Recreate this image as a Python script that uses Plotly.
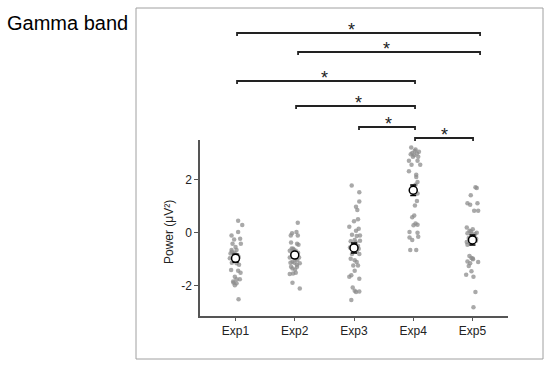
import plotly.graph_objects as go

# ---------------- data ----------------
categories = ["Exp1", "Exp2", "Exp3", "Exp4", "Exp5"]

exp1_vals = [0.45, 0.29, 0.03, -0.10, -0.22, -0.25, -0.41, -0.41, -0.53, -0.65,
             -0.71, -0.78, -0.80, -0.84, -0.75, -0.96, -0.96, -1.03, -1.13, -1.15,
             -0.90, -1.40, -1.43, -1.50, -1.65, -1.75, -1.75, -1.83, -1.90, -1.97,
             -2.50, -0.65, -1.20, -1.88, -0.85]
exp1_jit = [2.6, 6.7, 2.6, -4, 4.6, -1.4, -3, 5.3, 0, 1,
            -3.7, -5, -2, 2, -1, -5.7, 0.3, 1.6, -3.7, 1,
            3, -4.4, 2.6, 5, -0.7, 1, 4.3, -2.4, 1, -0.7,
            3, -4, 3.5, -2, 0.5]

exp2_vals = [0.38, -0.02, -0.10, 0.03, -0.10, -0.37, -0.41, -0.45, -0.59, -0.65,
             -0.68, -0.68, -0.75, -0.78, -0.88, -0.84, -0.93, -0.93, -1.03, -1.09,
             -1.13, -1.13, -1.15, -1.28, -1.28, -1.34, -1.38, -1.55, -1.53, -1.50,
             -1.88, -2.10, -0.72, -0.98, -0.60, -1.20]
exp2_jit = [3, -2.7, -4, 1.7, 3, -3.7, 2.3, 3.7, -3, -1,
            -5, 1, 3.3, -2.7, -1.7, 1, -5, 4.3, 2.3, -2.3,
            -4.3, -0.3, 5, -3.7, 2.3, -2.3, 0.3, -5, -1.7, 1,
            -2.3, 5, -0.5, 0.8, -1.5, 2]

exp3_vals = [1.78, 1.52, 1.18, 0.98, 0.86, 0.51, 0.43, 0.23, 0.15, 0.08,
             -0.07, -0.12, -0.10, -0.27, -0.32, -0.30, -0.37, -0.45, -0.50, -0.55,
             -0.60, -0.65, -0.70, -0.80, -0.80, -0.98, -1.03, -1.10, -1.23, -1.23,
             -1.43, -1.65, -1.73, -1.60, -2.06, -2.18, -2.21, -2.23, -2.53]
exp3_jit = [-2.3, 5.3, 5.3, 2, 3.3, 4, 0, -4.7, 4.7, 2,
            -2, 2.7, 6, 0.7, -3.3, 6, 2, -0.7, 4, -4,
            4.7, 0, 2.7, -2, 5.3, -3.3, 0.7, 2.7, -0.7, 4,
            0.7, -4.7, 5.3, -2.7, -1.3, 0.7, 5.3, 2, -2.7]

exp4_vals = [3.21, 3.13, 3.05, 3.00, 2.98, 2.92, 2.86, 2.86, 2.71, 2.71,
             2.56, 2.56, 2.31, 2.18, 1.91, 1.81, 1.73, 1.48, 1.48, 1.20,
             1.03, 0.65, 0.58, 0.35, 0.30, 0.28, 0.03, 0.00, -0.18, -0.15,
             -0.27, -0.65, -0.65, 3.08, 2.95, 2.10, 1.65]
exp4_jit = [-2, 2.3, 5.7, -1, 3.7, 1, -0.3, 5, -4.3, 4.3,
            -1.7, 7, -4.3, 3, 4.3, 2.3, -1, 1, 4.3, 3.7,
            1.7, 1, -1, 2.3, 4.3, 0.3, -3.7, 4.3, -3.7, 5,
            -1, -3, 3, 1.5, -2.5, 3, -0.5]

exp5_vals = [1.71, 1.68, 1.41, 1.11, 1.05, 1.11, 0.83, 0.83, 0.20, 0.08,
             0.13, -0.02, -0.05, 0.00, -0.12, -0.20, -0.22, -0.35, -0.40, -0.45,
             -0.87, -0.95, -0.97, -1.08, -1.15, -1.10, -1.25, -1.45, -1.58, -1.65,
             -2.23, -2.80, -0.05, 0.05, -0.30, -1.00]
exp5_jit = [3, 4.3, -1.7, -5, -2.3, 5, 1.7, 5.7, -5.7, -3,
            0.3, -5, -1, 4.3, 1.7, -3.7, 3.7, -5.7, -2.3, -5,
            -3, -1, 0.3, -5, -2.3, 5.7, -3.7, -1, -6.3, 1,
            3, 1, 2.5, -1.5, 3.5, 0.5]

group_vals = [exp1_vals, exp2_vals, exp3_vals, exp4_vals, exp5_vals]
group_jit = [exp1_jit, exp2_jit, exp3_jit, exp4_jit, exp5_jit]

means = [-0.96, -0.84, -0.57, 1.60, -0.27]
sems = [0.15, 0.12, 0.19, 0.20, 0.19]

y_tick_vals = [-2, 0, 2]
y_tick_text = ["-2", "0", "2"]

# significance brackets: (left category, right category)
bracket_pairs = [(0, 4), (1, 4), (0, 3), (1, 3), (2, 3), (3, 4)]
bracket_labels = ["*", "*", "*", "*", "*", "*"]

# ---------------- layout geometry (pixels) ----------------
W, H = 550, 367
PL, PR, PT, PB = 200, 508, 140, 316
X_RANGE = [-0.6, 4.6]
Y_RANGE = [-3.13, 3.49]
PX_PER_CAT = (PR - PL) / (X_RANGE[1] - X_RANGE[0])


def py2paper(py):
    return (PB - py) / (PB - PT)


def px2paper(px):
    return (px - PL) / (PR - PL)


bracket_y_px = [33, 52, 81, 106, 127, 138]
bracket_left_off = [1.5, 3.3, 1.5, 1.3, 5.0, 1.8]
bracket_right_off = [7.6, 7.6, 1.8, 1.8, 1.8, 0.6]
star_x_off = [-7.5, -3, -2, 2.5, 1, 0]

fig = go.Figure()

dot_color = "rgba(140,140,140,0.75)"
for i, (vals, jit) in enumerate(zip(group_vals, group_jit)):
    xs = [i + j / PX_PER_CAT for j in jit]
    fig.add_trace(go.Scatter(
        x=xs, y=vals, mode="markers",
        marker=dict(size=4.5, color=dot_color, line=dict(width=0)),
        showlegend=False, hoverinfo="y"))

fig.add_trace(go.Scatter(
    x=list(range(len(categories))), y=means, mode="markers",
    marker=dict(size=8, color="white", line=dict(color="black", width=1.5)),
    error_y=dict(type="data", array=sems, color="black", thickness=1.5, width=3),
    showlegend=False))

shapes = []
annotations = []

# outer frame
shapes.append(dict(type="rect", xref="paper", yref="paper",
                   x0=px2paper(136), x1=px2paper(543),
                   y0=py2paper(359), y1=py2paper(8),
                   line=dict(color="#a0a0a0", width=1), fillcolor="rgba(0,0,0,0)",
                   layer="below"))

tick_h = 3
for k, (a, b) in enumerate(bracket_pairs):
    xa = a + bracket_left_off[k] / PX_PER_CAT
    xb = b + bracket_right_off[k] / PX_PER_CAT
    yb = py2paper(bracket_y_px[k])
    yt = py2paper(bracket_y_px[k] + tick_h)
    shapes.append(dict(type="path", xref="x", yref="paper",
                       path=f"M {xa},{yt} L {xa},{yb} L {xb},{yb} L {xb},{yt}",
                       line=dict(color="#222222", width=1.8)))
    xm = (xa + xb) / 2 + star_x_off[k] / PX_PER_CAT
    annotations.append(dict(x=xm, y=py2paper(bracket_y_px[k] - 3), xref="x", yref="paper",
                            text=bracket_labels[k], showarrow=False,
                            font=dict(size=18, color="#222222", family="Arial, Liberation Sans"),
                            xanchor="center", yanchor="middle"))

annotations.append(dict(x=px2paper(5), y=py2paper(23), xref="paper", yref="paper",
                        text="Gamma band", showarrow=False, xanchor="left", yanchor="middle",
                        font=dict(size=20, color="black", family="Arial, Liberation Sans")))

annotations.append(dict(x=px2paper(169), y=py2paper(232), xref="paper", yref="paper",
                        text="Power (μV²)", showarrow=False, textangle=-90,
                        xanchor="center", yanchor="middle",
                        font=dict(size=12, color="#222222", family="Arial, Liberation Sans")))

fig.update_layout(
    width=W, height=H,
    margin=dict(l=PL, r=W - PR, t=PT, b=H - PB, pad=0),
    paper_bgcolor="white", plot_bgcolor="white",
    font=dict(family="Arial, Liberation Sans", size=12, color="#222222"),
    shapes=shapes, annotations=annotations,
    xaxis=dict(range=X_RANGE, tickvals=list(range(len(categories))), ticktext=categories,
               showgrid=False, zeroline=False, showline=True, linecolor="#555555",
               linewidth=1.5, ticks="outside", ticklen=3, tickcolor="#555555",
               tickfont=dict(size=12, color="#222222")),
    yaxis=dict(range=Y_RANGE, tickvals=y_tick_vals, ticktext=y_tick_text,
               showgrid=False, zeroline=False, showline=True, linecolor="#555555",
               linewidth=1.5, ticks="outside", ticklen=4, tickcolor="#555555",
               tickfont=dict(size=12, color="#222222")),
)

fig.write_html("out.html",
               config={"displayModeBar": False},
               post_script="document.body.style.margin='0';document.body.style.overflow='hidden';")
